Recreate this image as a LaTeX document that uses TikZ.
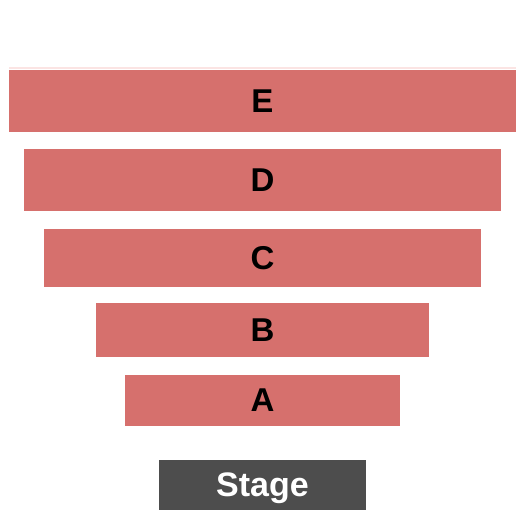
\documentclass[tikz,border=0pt]{standalone}
\usepackage{fontspec}
\setmainfont{Liberation Sans}
\definecolor{sect}{HTML}{D6706D}
\definecolor{stagecol}{HTML}{4D4D4D}
\definecolor{faint}{HTML}{FBE4E3}
\begin{document}
\begin{tikzpicture}[x=1pt,y=-1pt,
  sectbox/.style={fill=sect,draw=none,inner sep=0pt,anchor=center,font=\fontsize{33}{33}\selectfont\bfseries,text=black},
  stagebox/.style={fill=stagecol,draw=none,inner sep=0pt,anchor=center,text depth=0pt,font=\fontsize{34}{34}\selectfont\bfseries,text=white}]
\useasboundingbox (0,0) rectangle (525,525);
\fill[white] (0,0) rectangle (525,525);
\draw[faint,line width=1.2pt] (9,68) -- (516,68);
\node[sectbox,minimum width=507pt,minimum height=61.5pt] (E) at (262.5,100.75) {E};
\node[sectbox,minimum width=477pt,minimum height=61.5pt] (D) at (262.5,179.75) {D};
\node[sectbox,minimum width=437pt,minimum height=57.5pt] (C) at (262.5,257.75) {C};
\node[sectbox,minimum width=333pt,minimum height=53.5pt] (B) at (262.5,329.75) {B};
\node[sectbox,minimum width=275pt,minimum height=50.5pt] (A) at (262.5,400.25) {A};
\node[stagebox,minimum width=207pt,minimum height=50pt] (S) at (262.5,485) {Stage};
\end{tikzpicture}
\end{document}
